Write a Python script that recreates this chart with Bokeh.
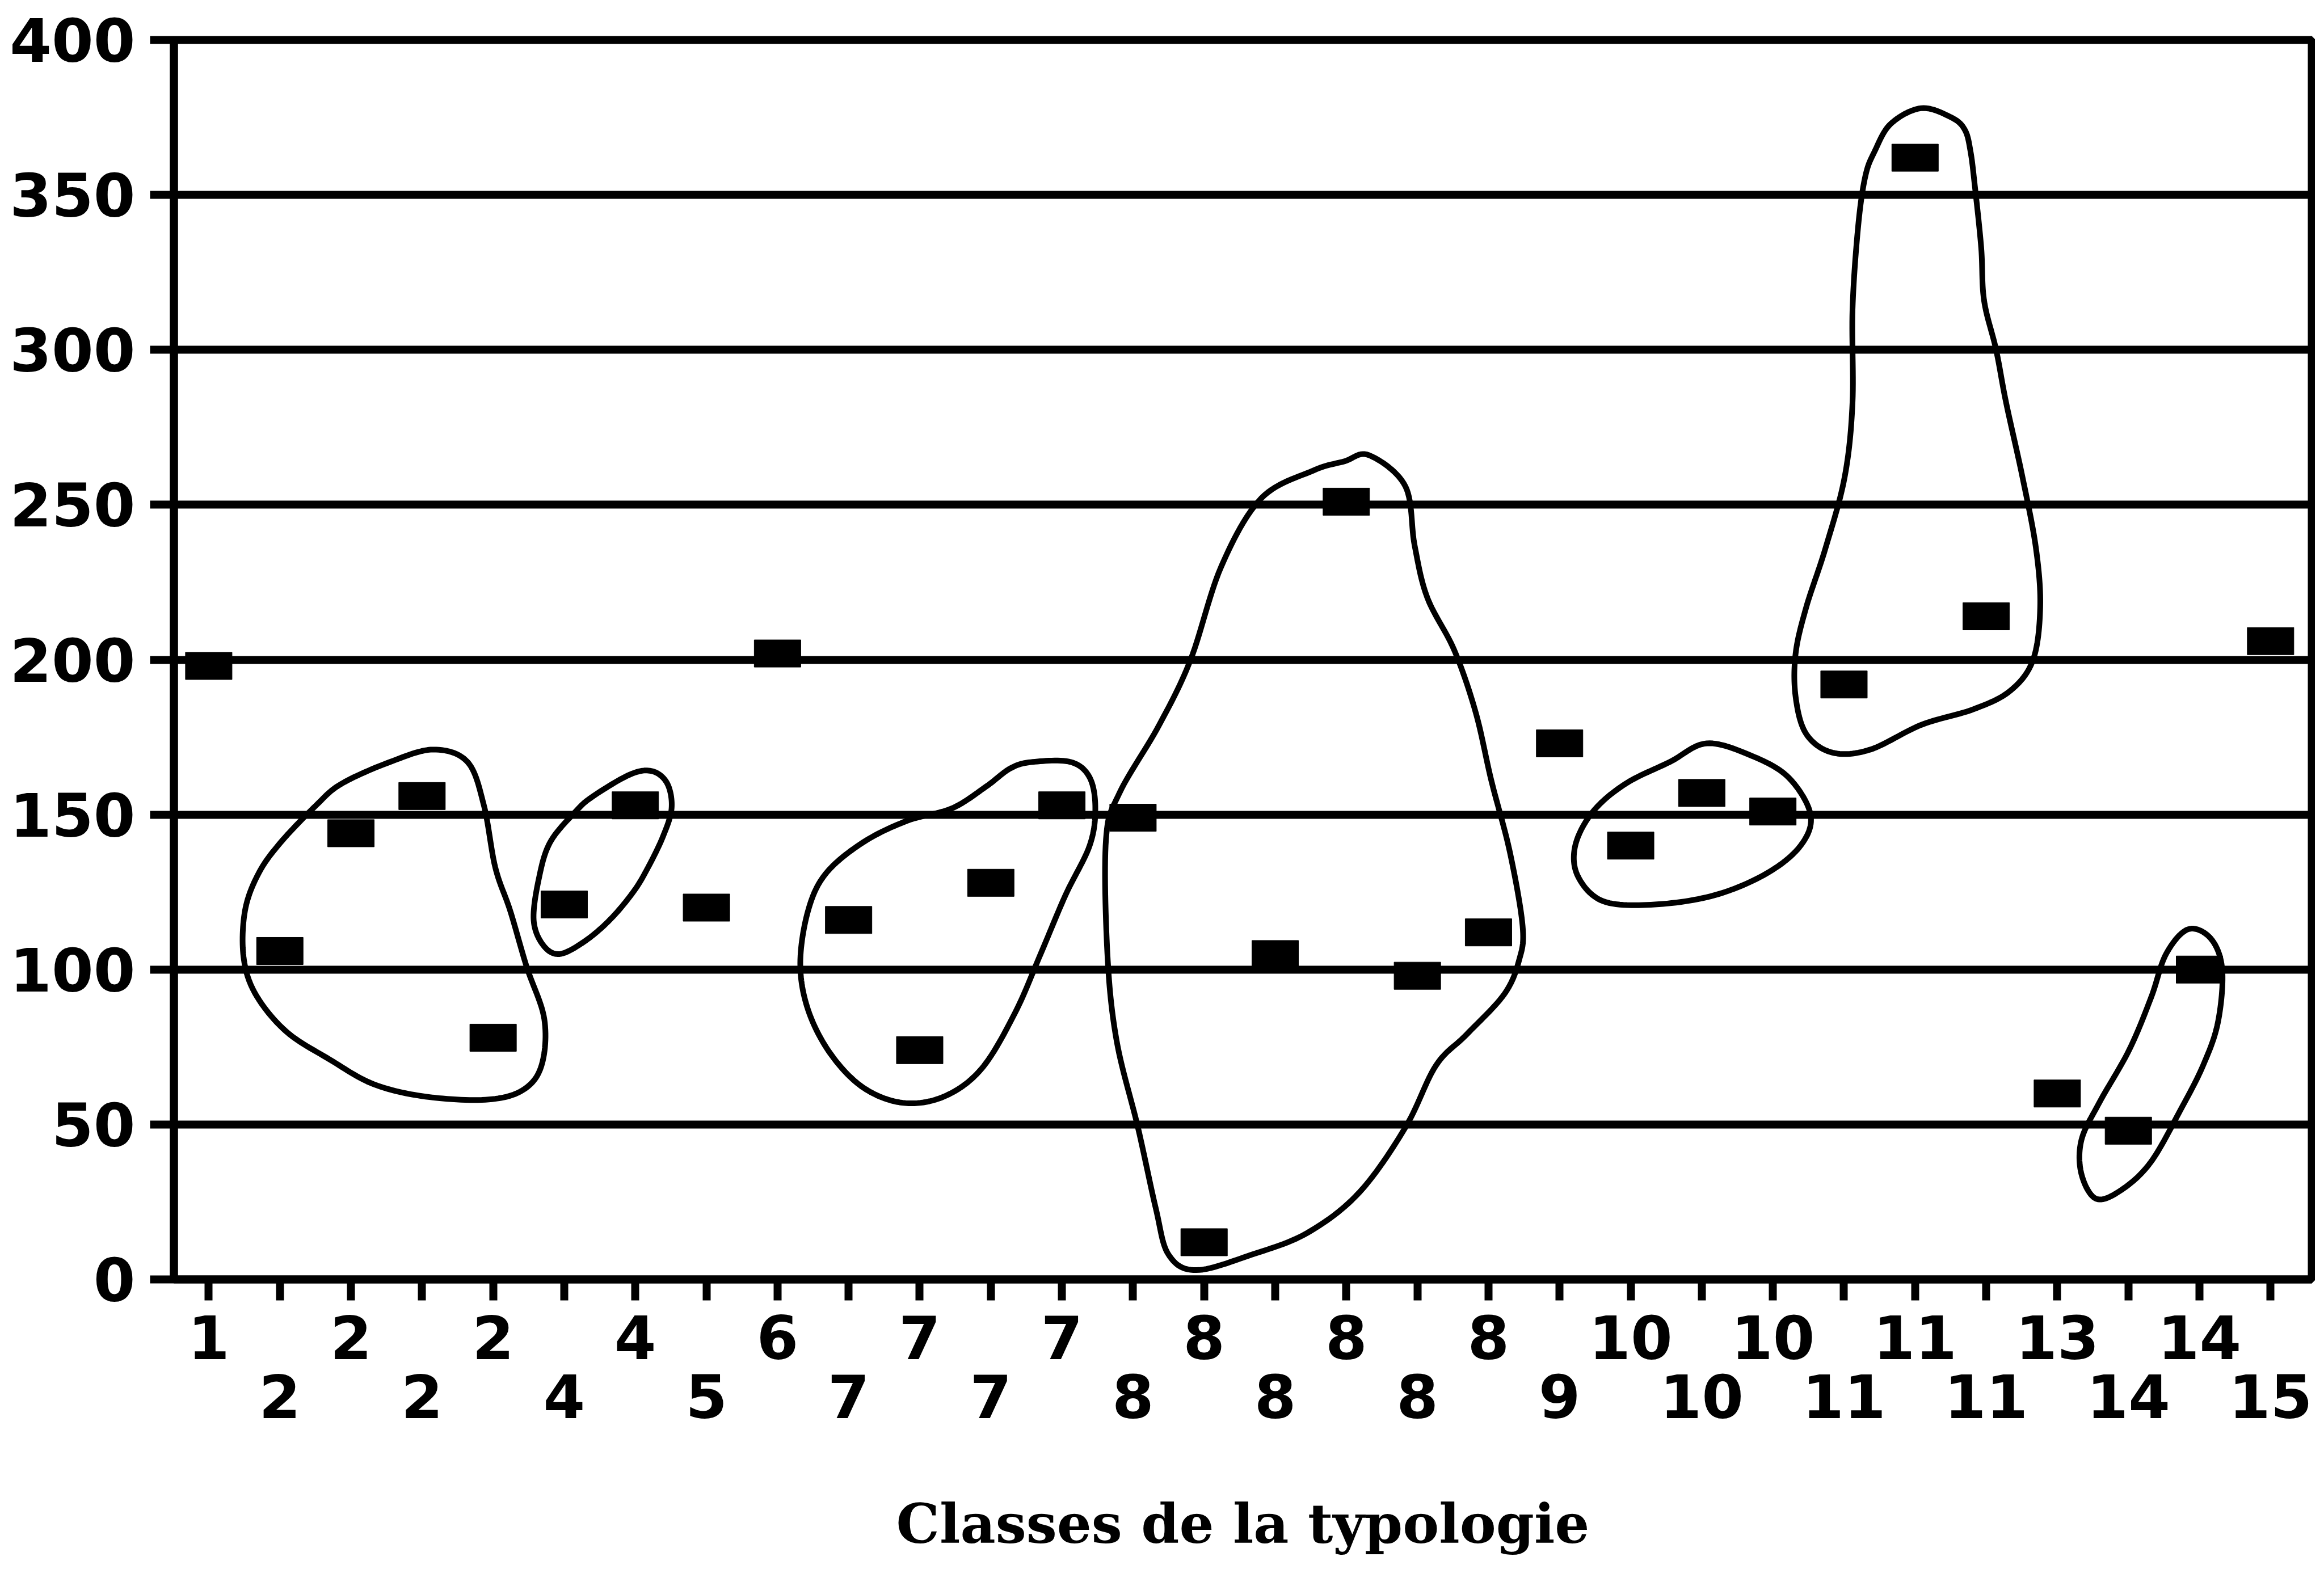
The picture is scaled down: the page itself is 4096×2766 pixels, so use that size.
import numpy as np
from bokeh.plotting import figure
from bokeh.models import FixedTicker, LinearAxis, Range1d
from bokeh.embed import file_html
from bokeh.resources import INLINE

# ---------------- data ----------------
positions = list(range(1, 31))
classes = [1, 2, 2, 2, 2, 4, 4, 5, 6, 7, 7, 7, 7, 8, 8, 8, 8, 8, 8, 9,
           10, 10, 10, 11, 11, 11, 13, 14, 14, 15]
values = [198, 106, 144, 156, 78, 121, 153, 120, 202, 116, 74, 128, 153, 149, 12,
          105, 251, 98, 112, 173, 140, 157, 151, 192, 362, 214, 60, 48, 100, 206]
y_ticks = [0, 50, 100, 150, 200, 250, 300, 350, 400]
x_title = "Classes de la typologie"

# hand-drawn group outlines (position, value)
ga_x = [4.16, 4.64, 4.87, 5.03, 5.24, 5.47, 5.72, 5.68, 5.41, 4.89, 4.05, 3.32, 2.70, 2.09, 1.66, 1.49, 1.51, 1.70, 2.01, 2.51, 2.87, 3.55]
ga_y = [171, 167, 153, 133, 119, 101, 84, 69, 61, 58, 59, 63, 71, 80, 92, 104, 119, 131, 141, 153, 160, 167]
gb_x = [6.93, 7.24, 7.45, 7.51, 7.39, 7.18, 6.97, 6.64, 6.28, 5.93, 5.70, 5.57, 5.64, 5.80, 6.16, 6.41]
gb_y = [163, 164, 160, 152, 143, 133, 125, 116, 109, 105, 108, 116, 129, 141, 151, 156]
gc_x = [12.59, 13.12, 13.39, 13.47, 13.39, 13.05, 12.70, 12.34, 11.87, 11.34, 10.76, 10.20, 9.74, 9.43, 9.32, 9.43, 9.68, 10.20, 10.82, 11.45, 11.93, 12.28]
gc_y = [167, 167, 162, 152, 140, 124, 105, 86, 68, 59, 57, 62, 73, 87, 102, 119, 131, 141, 148, 152, 159, 165]
gd_x = [17.32, 17.83, 17.96, 18.14, 18.52, 18.82, 19.04, 19.30, 19.48, 19.43, 19.22, 18.69, 18.26, 17.83, 17.18, 16.45, 15.67, 14.89, 14.50, 14.32, 14.07, 13.77, 13.64, 13.62, 13.81, 14.37, 14.81, 15.24, 15.80, 16.53, 16.97]
gd_y = [266, 256, 237, 220, 203, 183, 161, 138, 114, 103, 92, 79, 69, 49, 28, 15, 8, 3, 8, 23, 49, 77, 105, 142, 157, 179, 200, 230, 252, 261, 264]
ge_x = [22.07, 22.70, 23.22, 23.53, 23.39, 22.91, 22.18, 21.34, 20.62, 20.26, 20.22, 20.47, 20.93, 21.55]
ge_y = [173, 169, 162, 150, 140, 131, 124, 121, 122, 130, 140, 151, 160, 167]
gf_x = [25.09, 25.51, 25.70, 25.78, 25.84, 25.93, 25.97, 26.14, 26.28, 26.51, 26.70, 26.76, 26.66, 26.34, 25.82, 25.09, 24.37, 23.84, 23.47, 23.32, 23.32, 23.47, 23.74, 24.01, 24.12, 24.12, 24.20, 24.30, 24.43, 24.66]
gf_y = [378, 375, 371, 364, 353, 333, 316, 300, 283, 259, 236, 217, 200, 190, 184, 179, 171, 170, 176, 188, 202, 217, 236, 259, 283, 313, 340, 356, 364, 373]
gg_x = [28.84, 29.16, 29.32, 29.26, 29.05, 28.74, 28.32, 27.91, 27.55, 27.34, 27.34, 27.59, 28.01, 28.32, 28.53]
gg_y = [113, 110, 100, 83, 69, 55, 38, 29, 26, 34, 45, 57, 74, 91, 105]

outlines = [(ga_x, ga_y), (gb_x, gb_y), (gc_x, gc_y), (gd_x, gd_y),
            (ge_x, ge_y), (gf_x, gf_y), (gg_x, gg_y)]


def smooth_closed(xs, ys, steps=14):
    """Draw a hand-drawn loop smoothly through its vertices (closed Catmull-Rom)."""
    px = np.asarray(xs, float)
    py = np.asarray(ys, float)
    n = len(px)
    t = np.linspace(0, 1, steps, endpoint=False)
    ox, oy = [], []
    for i in range(n):
        idx = [(i - 1) % n, i, (i + 1) % n, (i + 2) % n]
        for arr, out in ((px, ox), (py, oy)):
            a0, a1, a2, a3 = arr[idx]
            seg = 0.5 * (2 * a1 + (-a0 + a2) * t + (2 * a0 - 5 * a1 + 4 * a2 - a3) * t ** 2
                         + (-a0 + 3 * a1 - 3 * a2 + a3) * t ** 3)
            out.extend(seg.tolist())
    ox.append(ox[0])
    oy.append(oy[0])
    return ox, oy


# ---------------- figure ----------------
W, H = 4080, 2745
TOP, FRAME_H = 70, 2190
p = figure(width=W, height=H, output_backend="svg", toolbar_location=None,
           x_range=Range1d(0.51, 30.58), y_range=Range1d(0, 400),
           min_border_left=306, min_border_right=6, min_border_top=TOP,
           min_border_bottom=H - TOP - FRAME_H)
p.background_fill_color = "white"
p.border_fill_color = "white"
p.outline_line_color = "black"
p.outline_line_width = 14

LW = 14
# grid
p.xgrid.visible = False
p.ygrid.ticker = FixedTicker(ticks=y_ticks)
p.ygrid.grid_line_color = "black"
p.ygrid.grid_line_width = LW
p.ygrid.grid_line_alpha = 1.0

# y axis
ya = p.yaxis[0]
ya.ticker = FixedTicker(ticks=y_ticks)
ya.axis_line_width = LW
ya.axis_line_color = "black"
ya.major_tick_line_width = LW
ya.major_tick_line_color = "black"
ya.major_tick_in = 0
ya.major_tick_out = 42
ya.minor_tick_line_color = None
ya.major_label_text_font = "DejaVu Sans"
ya.major_label_text_font_style = "bold"
ya.major_label_text_font_size = "106px"
ya.major_label_text_color = "black"
ya.major_label_standoff = 26

# x axis, first label row
xa = p.xaxis[0]
xa.ticker = FixedTicker(ticks=positions)
xa.major_label_overrides = {pos: (str(c) if i % 2 == 0 else "") for i, (pos, c) in enumerate(zip(positions, classes))}
xa.axis_line_width = LW
xa.axis_line_color = "black"
xa.major_tick_line_width = LW
xa.major_tick_line_color = "black"
xa.major_tick_in = 0
xa.major_tick_out = 37
xa.minor_tick_line_color = None
xa.major_label_text_font = "DejaVu Sans"
xa.major_label_text_font_style = "bold"
xa.major_label_text_font_size = "106px"
xa.major_label_text_color = "black"
xa.major_label_standoff = 26

# x axis, second label row + title (bounds shift the title slightly left of centre)
xb = LinearAxis(ticker=FixedTicker(ticks=positions), bounds=(0.04, 30.0))
xb.major_label_overrides = {pos: (str(c) if i % 2 == 1 else "") for i, (pos, c) in enumerate(zip(positions, classes))}
xb.axis_line_color = None
xb.major_tick_line_color = None
xb.minor_tick_line_color = None
xb.major_tick_in = 0
xb.major_tick_out = 0
xb.major_label_text_font = "DejaVu Sans"
xb.major_label_text_font_style = "bold"
xb.major_label_text_font_size = "106px"
xb.major_label_text_color = "black"
xb.major_label_standoff = 24
xb.axis_label = x_title
xb.axis_label_text_font = "DejaVu Serif"
xb.axis_label_text_font_style = "bold"
xb.axis_label_text_font_size = "96px"
xb.axis_label_text_color = "black"
xb.axis_label_standoff = 127
p.add_layout(xb, "below")

# group loops
loop_xs, loop_ys = [], []
for gx, gy in outlines:
    sx, sy = smooth_closed(gx, gy)
    loop_xs.append(sx)
    loop_ys.append(sy)
p.patches(xs=loop_xs, ys=loop_ys, fill_color=None, line_color="black",
          line_width=10, line_join="round")

# data markers
p.rect(x=positions, y=values, width=82, height=48, width_units="screen",
       height_units="screen", fill_color="black", line_color="black")

open("out.html", "w").write(file_html(p, INLINE))
